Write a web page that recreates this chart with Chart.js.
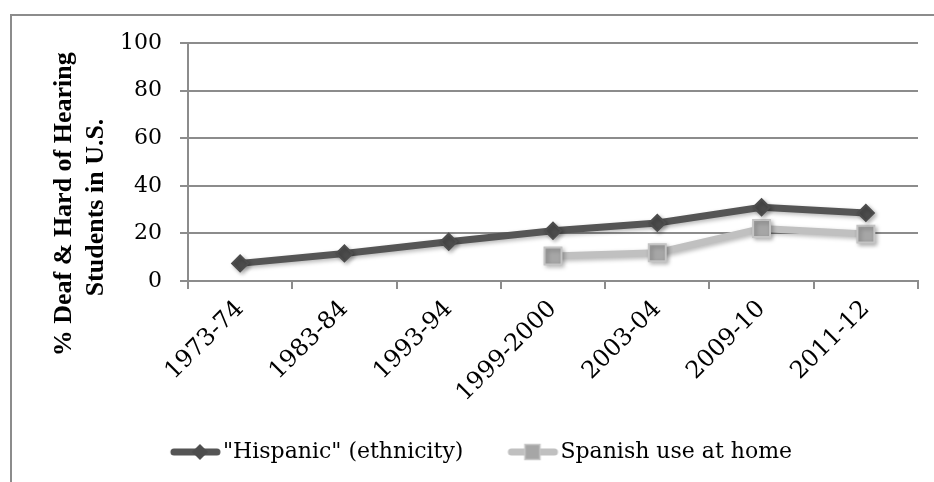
<!DOCTYPE html>
<html>
<head>
<meta charset="utf-8">
<script src="https://cdn.jsdelivr.net/npm/chart.js@4.4.0/dist/chart.umd.min.js"></script>
<style>
  html, body { margin: 0; padding: 0; background: #fff; }
  #frame { position: absolute; left: 10px; top: 14px; width: 1000px; height: 1000px;
           border-left: 2px solid #8c8c8c; border-top: 2px solid #8c8c8c; }
  #wrap { position: absolute; left: 0; top: 0; width: 934px; height: 482px; }
</style>
</head>
<body>
<div id="frame"></div>
<div id="wrap"><canvas id="c" width="934" height="482"></canvas></div>
<script>
// School years surveyed
const years = ['1973-74', '1983-84', '1993-94', '1999-2000', '2003-04', '2009-10', '2011-12'];
// % of deaf & hard of hearing students reported as Hispanic
const hispanicPct = [7.4, 11.6, 16.5, 21.1, 24.4, 31.0, 28.6];
// % whose home language is Spanish (not collected before 1999-2000)
const spanishHomePct = [null, null, null, 10.5, 11.9, 22.1, 19.7];
const yTicks = [0, 20, 40, 60, 80, 100];
const seriesNames = ['"Hispanic" (ethnicity)', 'Spanish use at home'];
const yTitleLines = ['% Deaf & Hard of Hearing', 'Students in U.S.'];

const gridColor = '#8c8c8c';
const darkGray = '#555555';
const lightGray = '#c0c0c0';
const yTickFont = { family: 'DejaVu Serif', size: 22 };
const xTickFont = { family: 'DejaVu Serif', size: 24 };

// Legend swatch: a short line segment with the series marker on it
const SWATCH_BOX = 70;
function makeSwatch(kind) {
  const W = SWATCH_BOX + 20, H = 24;
  const cv = document.createElement('canvas');
  cv.width = W; cv.height = H;
  const g = cv.getContext('2d');
  const x0 = W - 52, x1 = W - 1, cy = H / 2;
  g.lineCap = 'round';
  if (kind === 'diamond') {
    g.strokeStyle = darkGray; g.lineWidth = 7;
    g.beginPath(); g.moveTo(x0 + 4, cy); g.lineTo(x1 - 4, cy); g.stroke();
    const cx = x0 + 30, r = 8;
    g.fillStyle = '#4d4d4d';
    g.beginPath(); g.moveTo(cx - r, cy); g.lineTo(cx, cy - r); g.lineTo(cx + r, cy); g.lineTo(cx, cy + r);
    g.closePath(); g.fill();
  } else {
    g.strokeStyle = lightGray; g.lineWidth = 7;
    g.beginPath(); g.moveTo(x0 + 4, cy); g.lineTo(x1 - 4, cy); g.stroke();
    const cx = x0 + 25, s = 15;
    g.fillStyle = '#a6a6a6';
    g.fillRect(cx - s / 2, cy - s / 2, s, s);
    g.strokeStyle = '#c6c6c6'; g.lineWidth = 1.5;
    g.strokeRect(cx - s / 2, cy - s / 2, s, s);
  }
  return cv;
}
const swatches = [makeSwatch('diamond'), makeSwatch('square')];

// Soft drop shadow under the series lines and markers
const shadowPlugin = {
  id: 'seriesShadow',
  beforeDatasetsDraw(chart) {
    const ctx = chart.ctx;
    ctx.save();
    ctx.shadowColor = 'rgba(0,0,0,0.28)';
    ctx.shadowBlur = 4;
    ctx.shadowOffsetX = 2;
    ctx.shadowOffsetY = 2;
  },
  afterDatasetsDraw(chart) { chart.ctx.restore(); }
};

new Chart(document.getElementById('c'), {
  type: 'line',
  data: {
    labels: years,
    datasets: [
      {
        label: seriesNames[0],
        data: hispanicPct,
        borderColor: darkGray,
        borderWidth: 7,
        backgroundColor: '#4d4d4d',
        pointStyle: 'rectRot',
        pointRadius: 8,
        pointBorderWidth: 2,
        pointBorderColor: '#4d4d4d',
        pointBackgroundColor: '#4d4d4d',
        tension: 0
      },
      {
        label: seriesNames[1],
        data: spanishHomePct,
        borderColor: lightGray,
        borderWidth: 7,
        backgroundColor: '#a6a6a6',
        pointStyle: 'rect',
        pointRadius: 12,
        pointBorderWidth: 2,
        pointBorderColor: '#c4c4c4',
        pointBackgroundColor: '#a6a6a6',
        tension: 0
      }
    ]
  },
  options: {
    responsive: false,
    animation: false,
    devicePixelRatio: 1,
    layout: { padding: { left: 16, right: 16, top: 43, bottom: 9 } },
    plugins: {
      tooltip: { enabled: false },
      legend: {
        position: 'bottom',
        labels: {
          usePointStyle: true,
          pointStyleWidth: SWATCH_BOX,
          padding: 16,
          color: '#000',
          font: { family: 'DejaVu Serif', size: 22 },
          generateLabels(chart) {
            return chart.data.datasets.map((ds, i) => ({
              text: ds.label,
              pointStyle: swatches[i],
              fillStyle: 'transparent',
              strokeStyle: 'transparent',
              lineWidth: 0,
              hidden: false,
              datasetIndex: i,
              fontColor: '#000'
            }));
          }
        }
      }
    },
    scales: {
      x: {
        offset: true,
        grid: { offset: true, drawOnChartArea: false, drawTicks: true, tickLength: 8, color: gridColor, lineWidth: 2 },
        border: { color: gridColor, width: 2 },
        ticks: { autoSkip: false, minRotation: 45, maxRotation: 45, padding: 6, color: '#000', font: xTickFont },
        afterFit(s) { s.height = 144; }
      },
      y: {
        min: 0,
        max: 100,
        afterBuildTicks(s) { s.ticks = yTicks.map(v => ({ value: v })); },
        grid: { color: gridColor, lineWidth: 2, tickLength: 8 },
        border: { color: gridColor, width: 2 },
        ticks: { padding: 18, color: '#000', font: yTickFont },
        title: {
          display: true,
          text: [yTitleLines[0] + ' '.repeat(13), yTitleLines[1] + ' '.repeat(14)],
          color: '#000',
          font: { family: 'Liberation Serif', size: 26, weight: 'bold', lineHeight: 1.2 },
          padding: { top: 33, bottom: 0 }
        },
        afterFit(s) { s.width = 172; }
      }
    }
  },
  plugins: [shadowPlugin]
});
</script>
</body>
</html>
